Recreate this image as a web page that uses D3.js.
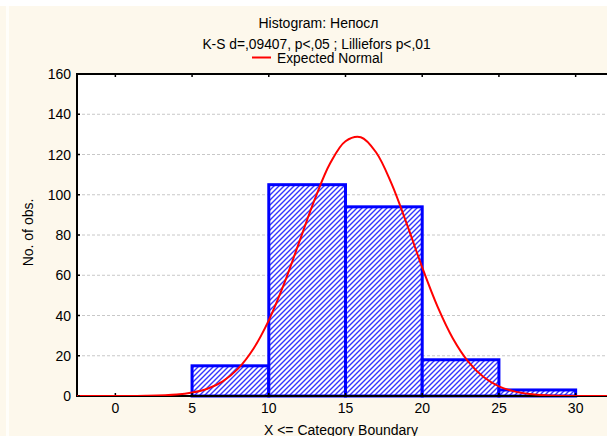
<!DOCTYPE html>
<html><head><meta charset="utf-8">
<script src="https://cdn.jsdelivr.net/npm/d3@7"></script>
<style>html,body{margin:0;padding:0;background:#fff;}svg{display:block;font-family:"Liberation Sans",Arial,sans-serif;}</style>
</head><body>
<script>
// Data
const binStarts = [5, 10, 15, 20, 25];
const binEnds   = [10, 15, 20, 25, 30];
const counts    = [15, 105, 94, 18, 3];
// Expected normal curve
const curveX = [-2.5, 0, 2, 4, 5, 6, 7, 8, 9, 10, 11, 12, 13, 14, 15, 16, 17, 18, 19, 20, 21, 22, 23, 24, 25, 26, 27, 28, 30, 32.5];
const curveY = [0, 0.01, 0.1, 0.7, 1.7, 3.6, 7.3, 13.6, 23.5, 37.6, 55.8, 76.8, 97.8, 115.6, 126.6, 128.6, 121.0, 105.5, 85.4, 63.9, 44.4, 28.6, 17.1, 9.4, 4.8, 2.3, 1.0, 0.4, 0.05, 0];
const xTicks = [0, 5, 10, 15, 20, 25, 30];
const yTicks = [0, 20, 40, 60, 80, 100, 120, 140, 160];
const title1 = "Histogram: Непосл";
const title2 = "K-S d=,09407, p<,05 ; Lilliefors p<,01";
const legendLabel = "Expected Normal";
const xTitle = "X <= Category Boundary";
const yTitle = "No. of obs.";

const W = 607, H = 436;
const svg = d3.select("body").append("svg").attr("width", W).attr("height", H);

// background
svg.append("rect").attr("x",0).attr("y",6).attr("width",W).attr("height",H-6).attr("fill","#fdf8ec");
svg.append("rect").attr("x",6).attr("y",6).attr("width",3).attr("height",H-6).attr("fill","#fffefa");

const m = {left: 77, top: 74, right: 614, bottom: 396};
const x = d3.scaleLinear().domain([-2.5, 32.5]).range([m.left, m.right]);
const y = d3.scaleLinear().domain([0, 160]).range([m.bottom, m.top]);

const defs = svg.append("defs");
const pat = defs.append("pattern").attr("id","hatch").attr("patternUnits","userSpaceOnUse")
  .attr("width",5).attr("height",5);
pat.append("rect").attr("width",5).attr("height",5).attr("fill","#ffffff");
pat.append("path").attr("d","M-1,6 L6,-1 M-1,1 L1,-1 M4,6 L6,4").attr("stroke","#3535ff").attr("stroke-width",1.4);
defs.append("clipPath").attr("id","clip").append("rect")
  .attr("x",m.left).attr("y",m.top).attr("width",m.right-m.left).attr("height",m.bottom-m.top);

// plot area
svg.append("rect").attr("x",m.left).attr("y",m.top).attr("width",m.right-m.left).attr("height",m.bottom-m.top).attr("fill","#fff");

// grid
svg.append("g").selectAll("line").data(yTicks.filter(d=>d>0 && d<160)).join("line")
  .attr("x1",m.left).attr("x2",m.right).attr("y1",d=>y(d)).attr("y2",d=>y(d))
  .attr("stroke","#c8c8c8").attr("stroke-dasharray","3,2").attr("stroke-width",1);

// bars
svg.append("g").selectAll("rect").data(counts).join("rect")
  .attr("x",(d,i)=>x(binStarts[i]))
  .attr("y",d=>y(d))
  .attr("width",(d,i)=>x(binEnds[i])-x(binStarts[i]))
  .attr("height",d=>y(0)-y(d))
  .attr("fill","url(#hatch)").attr("stroke","#0000ff").attr("stroke-width",3);

// axes frame
const g = svg.append("g");
g.append("line").attr("x1",m.left).attr("x2",m.right).attr("y1",m.top).attr("y2",m.top).attr("stroke","#000").attr("stroke-width",2);
g.append("line").attr("x1",m.left).attr("x2",m.left).attr("y1",m.top-1).attr("y2",m.bottom+1).attr("stroke","#000").attr("stroke-width",2);
g.append("line").attr("x1",m.left).attr("x2",m.right).attr("y1",m.bottom).attr("y2",m.bottom).attr("stroke","#000").attr("stroke-width",2);

// curve
const line = d3.line().x((d,i)=>x(curveX[i])).y(d=>y(d)).curve(d3.curveCatmullRom.alpha(0.5));
svg.append("path").datum(curveY).attr("d",line).attr("fill","none")
  .attr("stroke","#ff0000").attr("stroke-width",2).attr("clip-path","url(#clip)");

// ticks (inward)
svg.append("g").selectAll("line").data(xTicks).join("line")
  .attr("x1",d=>x(d)).attr("x2",d=>x(d)).attr("y1",m.bottom-1).attr("y2",m.bottom-3).attr("stroke","#000").attr("stroke-width",1.5);
svg.append("g").selectAll("line").data(xTicks).join("line")
  .attr("x1",d=>x(d)).attr("x2",d=>x(d)).attr("y1",m.top+1).attr("y2",m.top+3).attr("stroke","#000").attr("stroke-width",1.5);
svg.append("g").selectAll("line").data(yTicks).join("line")
  .attr("x1",m.left+1).attr("x2",m.left+3).attr("y1",d=>y(d)).attr("y2",d=>y(d)).attr("stroke","#000").attr("stroke-width",1.5);

// tick labels
svg.append("g").selectAll("text").data(xTicks).join("text")
  .attr("x",d=>x(d)).attr("y",413).attr("text-anchor","middle").attr("font-size",14).attr("fill","#000").text(d=>d);
svg.append("g").selectAll("text").data(yTicks).join("text")
  .attr("x",71).attr("y",d=>y(d)+5).attr("text-anchor","end").attr("font-size",14).attr("fill","#000").text(d=>d);

// titles
svg.append("text").attr("x",318.5).attr("y",28).attr("text-anchor","middle").attr("font-size",14).text(title1);
svg.append("text").attr("x",316.5).attr("y",48.5).attr("text-anchor","middle").attr("font-size",13.8).text(title2);
svg.append("line").attr("x1",252).attr("x2",271).attr("y1",57.5).attr("y2",57.5).attr("stroke","#ff0000").attr("stroke-width",2);
svg.append("text").attr("x",277).attr("y",63).attr("font-size",13.8).text(legendLabel);
svg.append("text").attr("x",341).attr("y",434.5).attr("text-anchor","middle").attr("font-size",14).text(xTitle);
svg.append("text").attr("transform","translate(33,232.5) rotate(-90)").attr("text-anchor","middle").attr("font-size",14).text(yTitle);
</script>
</body></html>
